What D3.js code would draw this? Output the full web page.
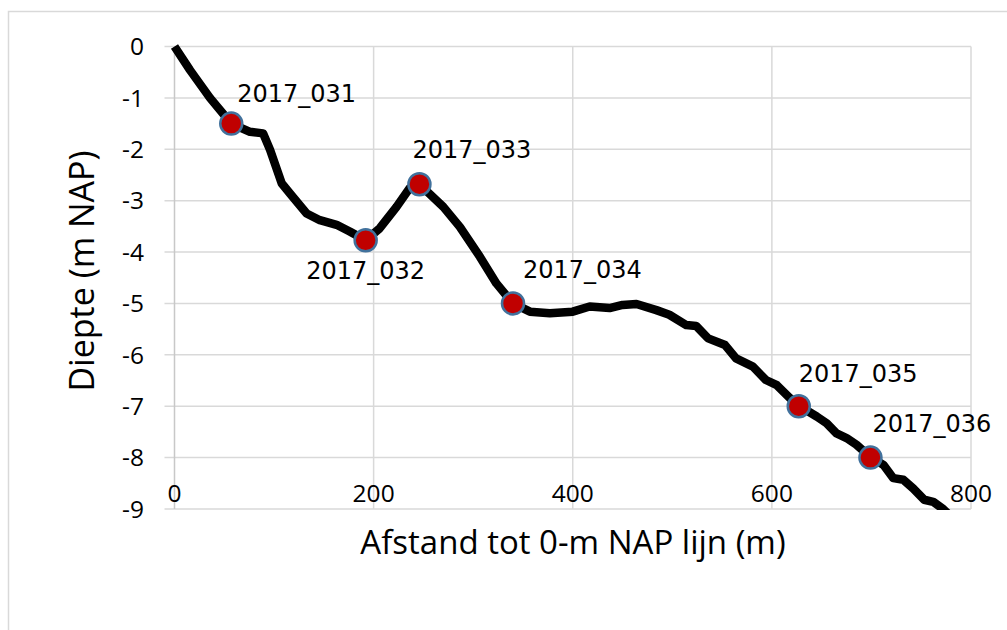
<!DOCTYPE html>
<html>
<head>
<meta charset="UTF-8">
<script src="https://cdn.jsdelivr.net/npm/d3@7"></script>
<style>
  body { margin: 0; background: #fff; }
  svg text { fill: #000; }
</style>
</head>
<body>
<svg id="chart" width="1007" height="630"></svg>
<script>
// profile: distance to 0-m NAP line (m) vs depth (m NAP)
let distance = [0, 15.6, 35.6, 57, 75.8, 89, 96, 107.6, 116, 132.7, 146, 162.8, 176, 192, 206, 223, 236, 246,
                270, 286.6, 306.7, 323.3, 340, 357, 377, 400, 417, 437, 450, 464, 484, 497, 514, 524, 536, 553,
                564, 581, 594, 605, 618, 627, 645, 655, 665, 675, 685, 699, 712, 722, 732, 742, 753, 762, 772, 780];
let depth = [0, -0.46, -1.0, -1.5, -1.66, -1.69, -2.01, -2.66, -2.86, -3.25, -3.38, -3.47, -3.60, -3.77, -3.54, -3.12, -2.76, -2.68,
             -3.12, -3.51, -4.09, -4.61, -5.0, -5.16, -5.19, -5.16, -5.06, -5.09, -5.03, -5.01, -5.13, -5.22, -5.42, -5.44, -5.68, -5.81,
             -6.07, -6.23, -6.49, -6.59, -6.84, -6.99, -7.20, -7.33, -7.53, -7.62, -7.75, -7.99, -8.14, -8.40, -8.43, -8.6, -8.82, -8.86, -9.0, -9.15];

// boreholes
let sampleNames = ["2017_031", "2017_032", "2017_033", "2017_034", "2017_035", "2017_036"];
let sampleDist  = [57, 192, 246, 340, 627, 699];
let sampleDepth = [-1.5, -3.77, -2.68, -5.0, -7.0, -8.0];

let xTicks = [0, 200, 400, 600, 800];
let yTicks = [0, -1, -2, -3, -4, -5, -6, -7, -8, -9];

// label placement relative to marker [dx, dy, anchor]
let labelPos = [[6, -22, "start"], [0, 39, "middle"], [-7, -26, "start"],
                [10, -25, "start"], [0, -24, "start"], [2, -26, "start"]];

let svg = d3.select("#chart");
let plotL = 174.5, plotR = 971, plotT = 46.5, plotB = 509;

let x = d3.scaleLinear([0, 800], [plotL, plotR]);
let y = d3.scaleLinear([0, -9], [plotT, plotB]);

// chart frame
svg.append("path")
    .attr("d", "M8.5,630 V11.5 H1007")
    .attr("fill", "none").attr("stroke", "#d9d9d9").attr("stroke-width", 1.5);

// gridlines
svg.append("g").selectAll("line").data(yTicks).join("line")
    .attr("x1", plotL - 10).attr("x2", plotR)
    .attr("y1", d => y(d)).attr("y2", d => y(d))
    .attr("stroke", "#d9d9d9").attr("stroke-width", 1.5);
svg.append("g").selectAll("line").data(xTicks).join("line")
    .attr("x1", d => x(d)).attr("x2", d => x(d))
    .attr("y1", plotT).attr("y2", plotB)
    .attr("stroke", d => d === 0 ? "#c8c8c8" : "#d9d9d9").attr("stroke-width", 1.5);

// tick labels
svg.append("g").selectAll("text").data(yTicks).join("text")
    .attr("x", 144).attr("y", d => y(d))
    .attr("dy", "0.36em")
    .attr("text-anchor", "end")
    .style("font", "24.5px 'Open Sans'")
    .text(d => d === 0 ? "0" : "-" + Math.abs(d));
svg.append("g").selectAll("text").data(xTicks).join("text")
    .attr("x", d => x(d)).attr("y", plotB - 7)
    .attr("text-anchor", "middle")
    .style("font", "24.5px 'Open Sans'")
    .text(d => d);

// axis titles
svg.append("text")
    .attr("x", 573).attr("y", 554)
    .attr("text-anchor", "middle")
    .style("font", "33px 'Open Sans'")
    .text("Afstand tot 0-m NAP lijn (m)");
svg.append("text")
    .attr("transform", "translate(94,271) rotate(-90)")
    .attr("text-anchor", "middle")
    .style("font", "34px 'Open Sans'")
    .text("Diepte (m NAP)");

// profile line
svg.append("clipPath").attr("id", "plotclip")
  .append("rect").attr("x", plotL - 5).attr("y", plotT - 5)
    .attr("width", plotR - plotL + 10).attr("height", plotB - plotT + 6);

let line = d3.line()
    .x((d, i) => x(distance[i]))
    .y((d, i) => y(depth[i]));

svg.append("path")
    .datum(depth)
    .attr("clip-path", "url(#plotclip)")
    .attr("d", line)
    .attr("fill", "none")
    .attr("stroke", "#000")
    .attr("stroke-width", 8.5)
    .attr("stroke-linejoin", "round");

// markers
svg.append("g").selectAll("circle").data(sampleNames).join("circle")
    .attr("cx", (d, i) => x(sampleDist[i]))
    .attr("cy", (d, i) => y(sampleDepth[i]))
    .attr("r", 11)
    .attr("fill", "#c00000")
    .attr("stroke", "#41719c")
    .attr("stroke-width", 2.5);

svg.append("g").selectAll("text").data(sampleNames).join("text")
    .attr("x", (d, i) => x(sampleDist[i]) + labelPos[i][0])
    .attr("y", (d, i) => y(sampleDepth[i]) + labelPos[i][1])
    .attr("text-anchor", (d, i) => labelPos[i][2])
    .style("font", "24px 'DejaVu Sans'")
    .text(d => d);
</script>
</body>
</html>
